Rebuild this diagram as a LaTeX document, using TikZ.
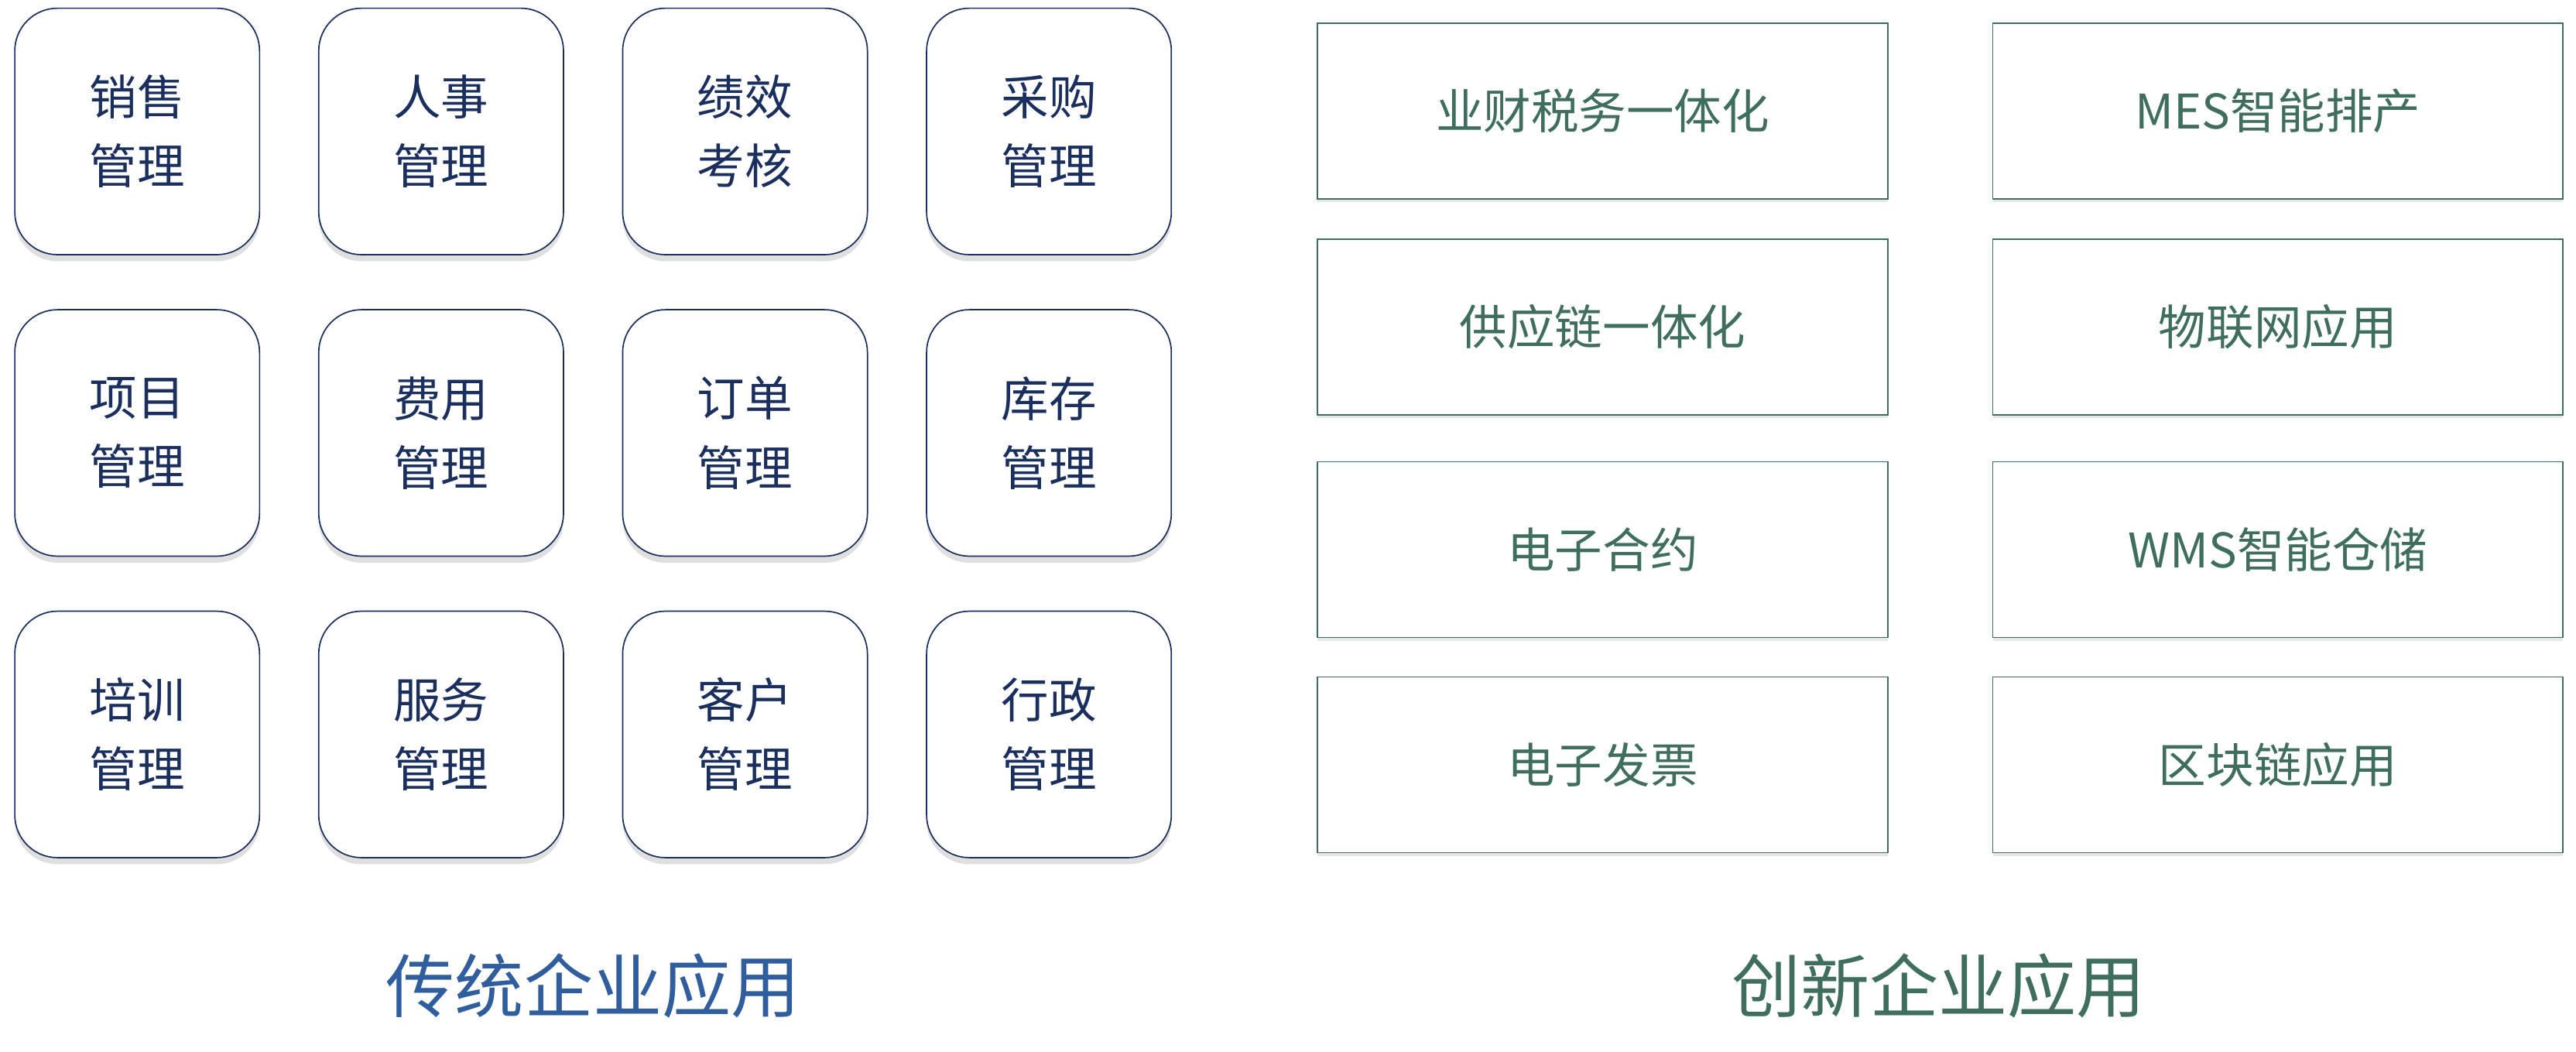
\documentclass[tikz,border=0pt]{standalone}
\usepackage{fontspec}
\setmainfont{Noto Sans CJK SC}
\usetikzlibrary{shadows}
\definecolor{navy}{HTML}{1B2F5E}
\definecolor{sage}{HTML}{3F6E5E}
\definecolor{titleblue}{HTML}{2F5D9E}
\tikzset{
x=1pt, y=-1pt,
oldapp/.style={draw=navy, thick, rounded corners=26pt, fill=white, minimum width=149pt,
  minimum height=150pt, align=center, text=navy, font=\fontsize{29}{42}\selectfont,
  drop shadow={shadow xshift=0pt, shadow yshift=-4pt, opacity=0.25}}, % traditional modules
newapp/.style={draw=sage, thick, fill=white, minimum width=347pt, minimum height=107pt,
  text=sage, font=\fontsize{29}{36}\selectfont,
  drop shadow={shadow xshift=0pt, shadow yshift=-2pt, opacity=0.2}}, % new modules
}
\begin{document}
\begin{tikzpicture}
\useasboundingbox (0,0) rectangle (1568,640);
% traditional enterprise apps
\foreach \txt [count=\i from 0] in {销售\\管理, 人事\\管理, 绩效\\考核, 采购\\管理,
  项目\\管理, 费用\\管理, 订单\\管理, 库存\\管理,
  培训\\管理, 服务\\管理, 客户\\管理, 行政\\管理}{
  \pgfmathtruncatemacro\col{mod(\i,4)}
  \pgfmathtruncatemacro\row{div(\i,4)}
  \node[oldapp] (old\i) at (83.5+185*\col, 80+183.5*\row) {\txt};
}
% innovative enterprise apps
\foreach \txt [count=\i from 0] in {业财税务一体化, MES智能排产, 供应链一体化, 物联网应用,
  电子合约, WMS智能仓储, 电子发票, 区块链应用}{
  \pgfmathtruncatemacro\col{mod(\i,2)}
  \pgfmathtruncatemacro\row{div(\i,2)}
  \pgfmathsetmacro\ypos{{67.5,199,334.5,465.5}[\row]}
  \node[newapp] (new\i) at (975.5+411*\col, \ypos) {\txt};
}
\node[text=titleblue, font=\fontsize{42}{50}\selectfont] (oldtitle) at (361,600) {传统企业应用};
\node[text=sage, font=\fontsize{42}{50}\selectfont] (newtitle) at (1180,600) {创新企业应用};
\end{tikzpicture}
\end{document}
